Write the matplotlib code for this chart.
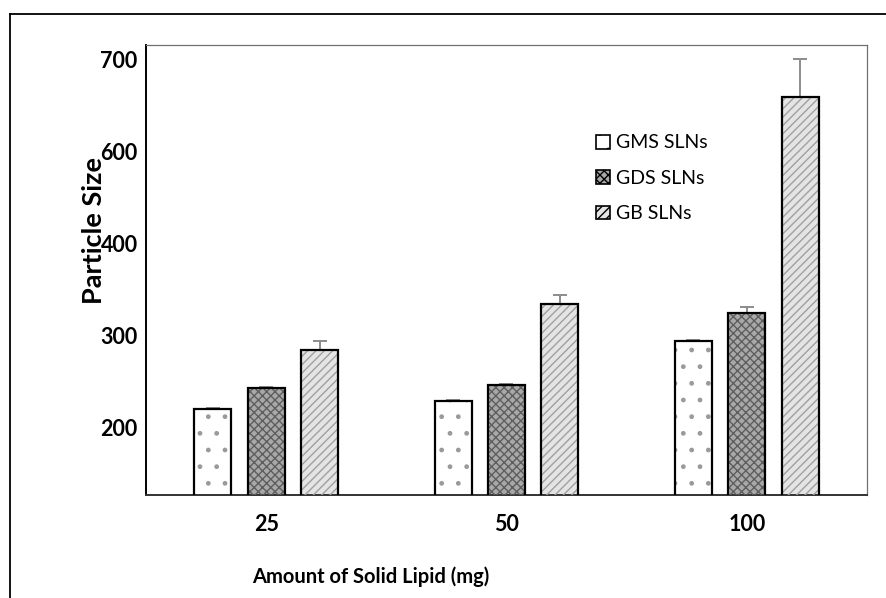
import numpy as np
import matplotlib
matplotlib.use("Agg")
import matplotlib.pyplot as plt
from matplotlib.lines import Line2D

plt.rcParams['font.family'] = ['Lato', 'DejaVu Sans']
plt.rcParams['hatch.linewidth'] = 1.0

# datos (escala lineal de la figura)
grupos = ['25', '50', '100']
series = ['GMS SLNs', 'GDS SLNs', 'GB SLNs']
gms = [220.3, 229.0, 294.5]
gds = [242.8, 246.4, 324.5]
gb = [284.4, 334.3, 558.7]
err_gms = [1.5, 1.0, 1.0]
err_gds = [1.0, 1.0, 6.5]
err_gb = [10.0, 10.0, 41.6]

# posiciones de las marcas del eje y sus etiquetas (tal como aparecen)
yticks_pos = [200, 300, 400, 500, 600]
yticks_lab = ['200', '300', '400', '600', '700']

fig = plt.figure(figsize=(8.86, 5.98), dpi=100)
ax = fig.add_axes([146/886, 1-495/598, (867-146)/886, (495-45)/598])

x = np.arange(len(grupos))
ancho = 0.154
paso = 0.222

estilos = [
    dict(fc='white', hatch='.', hc='#9a9a9a'),
    dict(fc='#a8a8a8', hatch='xxxx', hc='#5e5e5e'),
    dict(fc='#e4e4e4', hatch='////', hc='#a0a0a0'),
]

valores = [gms, gds, gb]
errores = [err_gms, err_gds, err_gb]
for i, (vals, errs, st) in enumerate(zip(valores, errores, estilos)):
    pos = x + (i - 1) * paso
    ax.bar(pos, vals, ancho, color=st['fc'], linewidth=0, zorder=2)
    ax.bar(pos, vals, ancho, fill=False, hatch=st['hatch'],
           edgecolor=st['hc'], linewidth=0, zorder=3)
    ax.bar(pos, vals, ancho, fill=False, edgecolor='black',
           linewidth=1.6, zorder=4, label=series[i])
    ax.errorbar(pos, vals, yerr=[np.zeros(len(errs)), errs], fmt='none',
                ecolor='#8c8c8c', elinewidth=1.4, capsize=5, capthick=1.4,
                zorder=1)

ax.set_xlim(-0.5, 2.5)
ax.set_ylim(126.9, 615.5)
ax.set_xticks(x)
ax.set_xticklabels(grupos, fontsize=15.5, fontweight='bold')
ax.set_yticks(yticks_pos)
ax.set_yticklabels(yticks_lab, fontsize=15.5, fontweight='bold')
ax.tick_params(axis='x', length=0, pad=14)
ax.tick_params(axis='y', length=0, pad=6)

ax.spines['left'].set_linewidth(1.4)
ax.spines['bottom'].set_linewidth(1.4)
ax.spines['bottom'].set_color('#333333')
for s in ['top', 'right']:
    ax.spines[s].set_linewidth(0.9)
    ax.spines[s].set_color('#707070')

# leyenda con marcadores cuadrados pequenos
handles = []
for st in estilos:
    h = matplotlib.patches.Patch(facecolor=st['fc'], edgecolor='black',
                                 hatch=st['hatch'], linewidth=1.2)
    handles.append(h)
ax.legend(handles, series, loc='upper left', bbox_to_anchor=(0.6, 0.84),
          frameon=False, fontsize=14, handlelength=0.7, handleheight=0.7,
          handletextpad=0.3, labelspacing=0.95)

fig.text(94/886, 1-230/598, 'Particle Size', rotation=90, fontsize=19.5,
         fontweight='bold', ha='center', va='center')
fig.text(371/886, 1-577/598, 'Amount of Solid Lipid (mg)', fontsize=14.5,
         fontweight='bold', ha='center', va='center')

# marco exterior (solo arriba e izquierda visibles)
fig.add_artist(Line2D([10/886, 1], [1-14/598, 1-14/598], color='black',
                      linewidth=1.3, transform=fig.transFigure))
fig.add_artist(Line2D([10/886, 10/886], [0, 1-14/598], color='black',
                      linewidth=1.3, transform=fig.transFigure))

fig.savefig('out.png', dpi=100)
